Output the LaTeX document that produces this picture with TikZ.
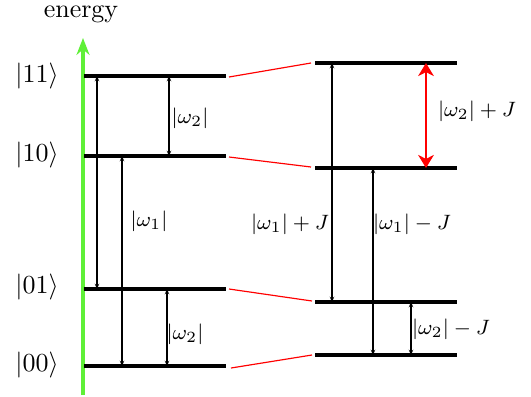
\documentclass[tikz,border=0pt]{standalone}
\usetikzlibrary{arrows.meta}
\definecolor{axisgreen}{RGB}{95,240,55}
\begin{document}
\begin{tikzpicture}[x=0.385pt,y=-0.385pt,
  level/.style={line width=1.2pt},
  link/.style={red,line width=0.45pt},
  trans/.style={{Stealth[length=2pt,width=1.7pt]}-{Stealth[length=2pt,width=1.7pt]},line width=0.4pt},
  bigtrans/.style={{Stealth[length=5pt,width=6pt,inset=1.5pt]}-{Stealth[length=5pt,width=6pt,inset=1.5pt]},red,line width=0.9pt},
  ket/.style={font=\fontsize{10}{12}\selectfont},
  lab/.style={font=\fontsize{8}{10}\selectfont},
]
\useasboundingbox (0,0) rectangle (531,396);
% axis
\coordinate (ax0) at (83,395);
\coordinate (ax1) at (83,38);
\draw[axisgreen,line width=1.2pt,-{Stealth[length=6.5pt,width=5pt]}] (ax0) -- (ax1);
\node[font=\fontsize{10}{12}\selectfont] (energy) at (81,14) {energy};
% left levels
\foreach \n/\y in {11/76,10/156,01/289,00/366}{
  \coordinate (L\n a) at (84,\y);
  \coordinate (L\n b) at (226,\y);
  \draw[level] (L\n a) -- (L\n b);
}
% right levels
\foreach \n/\y in {11/63,10/168,01/302,00/355}{
  \coordinate (R\n a) at (315,\y);
  \coordinate (R\n b) at (457,\y);
  \draw[level] (R\n a) -- (R\n b);
}
% red links
\draw[link] (229,77) coordinate (k11a) -- (311,63) coordinate (k11b);
\draw[link] (229,157) coordinate (k10a) -- (311,167) coordinate (k10b);
\draw[link] (229,289) coordinate (k01a) -- (312,301) coordinate (k01b);
\draw[link] (231,368) coordinate (k00a) -- (312,355) coordinate (k00b);
% kets
\node[ket] (k11) at (37,76) {$|11\rangle$};
\node[ket] (k10) at (37,155) {$|10\rangle$};
\node[ket] (k01) at (37,287) {$|01\rangle$};
\node[ket] (k00) at (37,365) {$|00\rangle$};
% left transitions
\coordinate (t1a) at (97,76); \coordinate (t1b) at (97,289);
\draw[trans] (t1a) -- (t1b);
\coordinate (t2a) at (122,156); \coordinate (t2b) at (122,366);
\draw[trans] (t2a) -- (t2b);
\node[lab] (w1) at (149,221) {$|\omega_1|$};
\coordinate (t3a) at (169,76); \coordinate (t3b) at (169,156);
\draw[trans] (t3a) -- (t3b);
\node[lab] (w2a) at (190,118) {$|\omega_2|$};
\coordinate (t4a) at (167,289); \coordinate (t4b) at (167,366);
\draw[trans] (t4a) -- (t4b);
\node[lab] (w2b) at (185,334) {$|\omega_2|$};
% right transitions
\coordinate (u1a) at (332,63); \coordinate (u1b) at (332,302);
\draw[trans] (u1a) -- (u1b);
\node[lab] (w1p) at (290,224) {$|\omega_1|+J$};
\coordinate (u2a) at (373,168); \coordinate (u2b) at (373,355);
\draw[trans] (u2a) -- (u2b);
\node[lab] (w1m) at (412,224) {$|\omega_1|-J$};
\coordinate (u3a) at (426,63); \coordinate (u3b) at (426,168);
\draw[bigtrans] (u3a) -- (u3b);
\node[lab] (w2p) at (477,111) {$|\omega_2|+J$};
\coordinate (u4a) at (411,302); \coordinate (u4b) at (411,355);
\draw[trans] (u4a) -- (u4b);
\node[lab] (w2m) at (451,329) {$|\omega_2|-J$};
\end{tikzpicture}
\end{document}
